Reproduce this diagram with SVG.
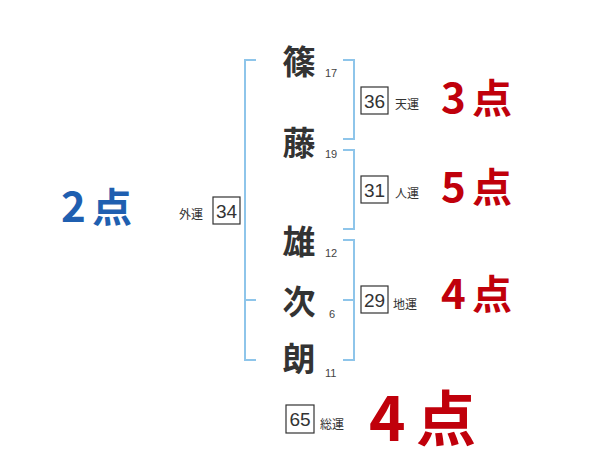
<svg xmlns="http://www.w3.org/2000/svg" width="600" height="470" viewBox="0 0 600 470">
<style>
.br{fill:none;stroke:#8ec5ea;stroke-width:2}
.ch{font-family:"Noto Sans CJK JP",sans-serif;font-weight:bold;font-size:33px;fill:#333;text-anchor:middle}
.sn{font-family:"Liberation Sans","Noto Sans CJK JP",sans-serif;font-size:11px;fill:#444}
.bx{fill:#fff;stroke:#333;stroke-width:1.2}
.bn{font-family:"Liberation Sans",sans-serif;font-size:19px;fill:#333;text-anchor:middle}
.lb{font-family:"Noto Sans CJK JP",sans-serif;font-size:12px;fill:#333}
.rd{font-family:"Noto Sans CJK JP",sans-serif;font-weight:bold;fill:#c0000b}
.bl{font-family:"Noto Sans CJK JP",sans-serif;font-weight:bold;fill:#1f5fb0}
</style>
<rect width="600" height="470" fill="#fff"/>
<g id="connectors">
<path class="br" d="M256,60 H245 V360 H256 M245,300 H256"/>
<path class="br" d="M343,60 H354 V139 H343"/>
<path class="br" d="M343,150 H354 V229 H343"/>
<path class="br" d="M343,240 H354 V360 H343 M354,300 H343"/>
</g>
<g id="name1"><text class="ch" x="299" y="74">篠</text><text class="sn" x="325" y="77">17</text></g>
<g id="name2"><text class="ch" x="299" y="155">藤</text><text class="sn" x="325" y="158">19</text></g>
<g id="name3"><text class="ch" x="299" y="254">雄</text><text class="sn" x="325" y="257">12</text></g>
<g id="name4"><text class="ch" x="299" y="314">次</text><text class="sn" x="329" y="318">6</text></g>
<g id="name5"><text class="ch" x="299" y="371">朗</text><text class="sn" x="325" y="377">11</text></g>
<g id="tenun"><rect class="bx" x="361" y="87" width="27" height="27"/><text class="bn" x="374.5" y="108">36</text><text class="lb" x="395" y="109">天運</text></g>
<g id="jinun"><rect class="bx" x="361" y="176" width="27" height="27"/><text class="bn" x="374.5" y="197">31</text><text class="lb" x="395" y="198">人運</text></g>
<g id="chiun"><rect class="bx" x="361" y="286" width="27" height="27"/><text class="bn" x="374.5" y="307">29</text><text class="lb" x="393" y="309">地運</text></g>
<g id="gaiun"><rect class="bx" x="213" y="197" width="27" height="27"/><text class="bn" x="226.5" y="218">34</text><text class="lb" x="179" y="219">外運</text></g>
<g id="souun"><rect class="bx" x="286" y="405" width="28" height="28"/><text class="bn" x="300" y="426">65</text><text class="lb" x="320" y="429">総運</text></g>
<g id="score-ten"><text class="rd" font-size="42" x="441" y="113">3</text><text class="rd" font-size="40" x="472" y="113">点</text></g>
<g id="score-jin"><text class="rd" font-size="42" x="441" y="202">5</text><text class="rd" font-size="40" x="472" y="202">点</text></g>
<g id="score-chi"><text class="rd" font-size="42" x="441" y="309">4</text><text class="rd" font-size="40" x="472" y="309">点</text></g>
<g id="score-gai"><text class="bl" font-size="42" x="61" y="222">2</text><text class="bl" font-size="40" x="92" y="222">点</text></g>
<g id="score-sou"><text class="rd" font-size="62" x="369" y="441">4</text><text class="rd" font-size="60" x="416" y="441">点</text></g>
</svg>
